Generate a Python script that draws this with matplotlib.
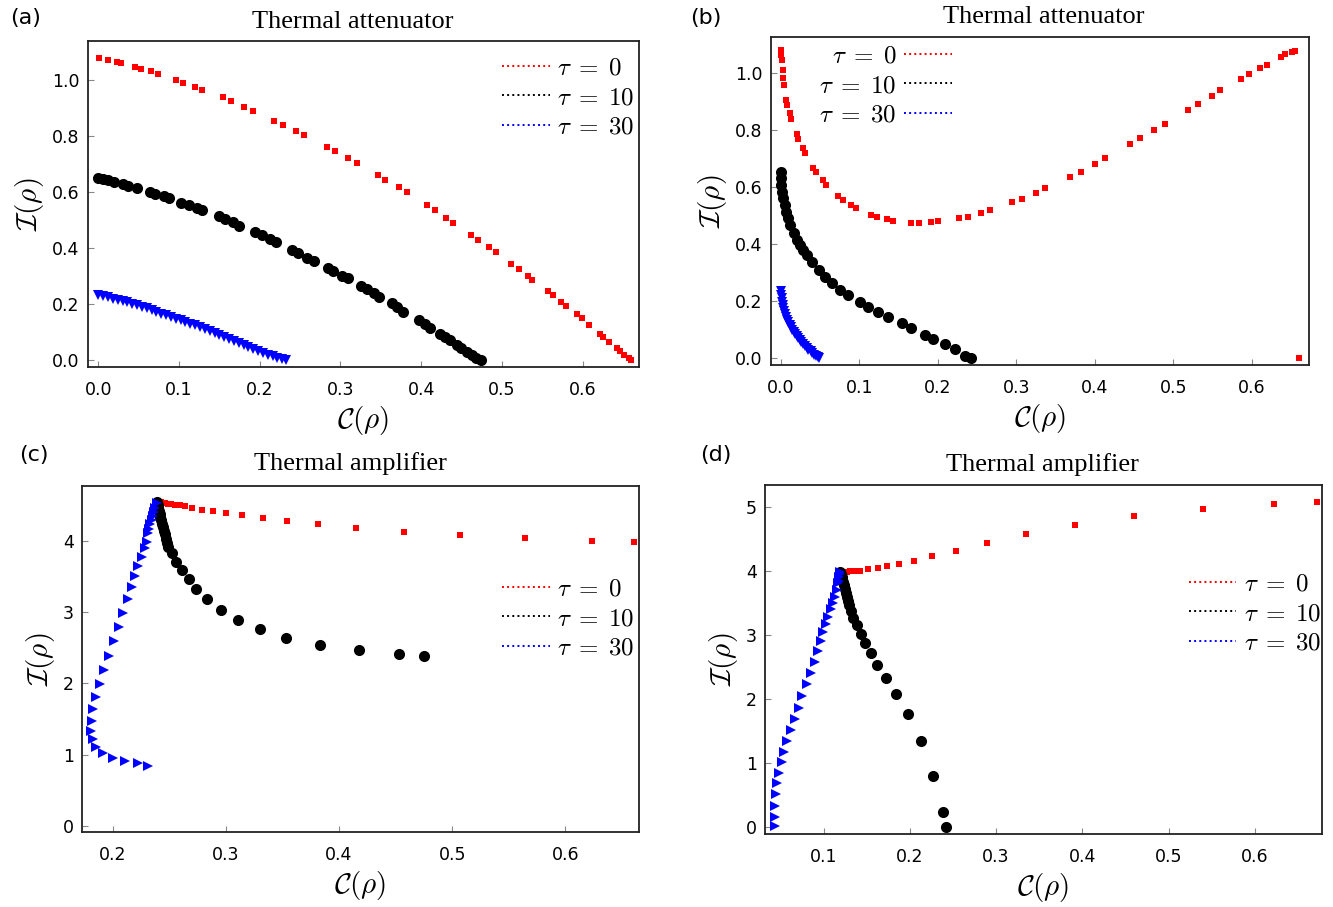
import matplotlib
matplotlib.use("Agg")
import matplotlib.pyplot as plt
from matplotlib.lines import Line2D

plt.rcParams['mathtext.fontset'] = 'cm'
plt.rcParams['font.family'] = ['DejaVu Sans']

# ---------------- (a) thermal attenuator ----------------
a_red_x = [0.001, 0.012, 0.023, 0.028, 0.045, 0.053, 0.065, 0.074, 0.096, 0.105,
           0.120, 0.129, 0.155, 0.164, 0.181, 0.192, 0.218, 0.229, 0.245, 0.255,
           0.283, 0.293, 0.310, 0.320, 0.346, 0.355, 0.372, 0.382, 0.407, 0.417,
           0.431, 0.440, 0.462, 0.471, 0.484, 0.493, 0.512, 0.521, 0.532, 0.538,
           0.557, 0.563, 0.573, 0.579, 0.593, 0.599, 0.608, 0.622, 0.626, 0.633,
           0.643, 0.646, 0.652, 0.657, 0.660]
a_red_y = [1.079, 1.073, 1.067, 1.061, 1.049, 1.041, 1.032, 1.023, 1.002, 0.992,
           0.977, 0.967, 0.939, 0.926, 0.905, 0.892, 0.856, 0.842, 0.819, 0.804,
           0.763, 0.748, 0.722, 0.705, 0.662, 0.644, 0.618, 0.600, 0.555, 0.537,
           0.509, 0.491, 0.447, 0.429, 0.403, 0.385, 0.342, 0.326, 0.302, 0.285,
           0.247, 0.233, 0.209, 0.194, 0.164, 0.149, 0.125, 0.094, 0.083, 0.065,
           0.042, 0.032, 0.018, 0.006, 0.000]

a_blk_x = [0.000, 0.006, 0.012, 0.019, 0.031, 0.037, 0.048, 0.064, 0.070, 0.081,
           0.087, 0.103, 0.112, 0.122, 0.129, 0.149, 0.157, 0.167, 0.174, 0.194,
           0.203, 0.213, 0.220, 0.240, 0.248, 0.258, 0.267, 0.285, 0.291, 0.302,
           0.309, 0.325, 0.333, 0.341, 0.348, 0.364, 0.370, 0.378, 0.397, 0.405,
           0.411, 0.424, 0.430, 0.436, 0.445, 0.450, 0.457, 0.463, 0.468, 0.474]
a_blk_y = [0.650, 0.648, 0.643, 0.638, 0.629, 0.624, 0.614, 0.602, 0.595, 0.586,
           0.578, 0.562, 0.555, 0.545, 0.536, 0.514, 0.504, 0.493, 0.481, 0.457,
           0.447, 0.433, 0.421, 0.394, 0.383, 0.366, 0.355, 0.328, 0.318, 0.302,
           0.292, 0.266, 0.254, 0.239, 0.227, 0.203, 0.191, 0.173, 0.143, 0.128,
           0.116, 0.093, 0.084, 0.072, 0.054, 0.042, 0.030, 0.018, 0.006, 0.000]

a_blu_x = [0.000, 0.006, 0.012, 0.018, 0.024, 0.030, 0.036, 0.042, 0.048, 0.054,
           0.060, 0.066, 0.072, 0.078, 0.084, 0.090, 0.096, 0.102, 0.108, 0.114,
           0.120, 0.126, 0.132, 0.138, 0.144, 0.150, 0.156, 0.162, 0.168, 0.174,
           0.180, 0.186, 0.192, 0.198, 0.204, 0.210, 0.216, 0.222, 0.228, 0.232]
a_blu_y = [0.233, 0.229, 0.224, 0.220, 0.216, 0.211, 0.206, 0.201, 0.196, 0.190,
           0.185, 0.179, 0.173, 0.166, 0.160, 0.154, 0.148, 0.142, 0.136, 0.130,
           0.124, 0.118, 0.111, 0.105, 0.098, 0.091, 0.084, 0.076, 0.069, 0.062,
           0.055, 0.047, 0.040, 0.032, 0.026, 0.019, 0.013, 0.007, 0.002, 0.000]

# ---------------- (b) thermal attenuator ----------------
b_red_x = [0.000, 0.000, 0.001, 0.002, 0.003, 0.004, 0.007, 0.008, 0.011, 0.013,
           0.020, 0.022, 0.028, 0.031, 0.041, 0.045, 0.053, 0.058, 0.073, 0.079,
           0.089, 0.095, 0.115, 0.123, 0.135, 0.143, 0.166, 0.176, 0.191, 0.200,
           0.227, 0.238, 0.255, 0.266, 0.295, 0.307, 0.325, 0.337, 0.369, 0.382,
           0.400, 0.413, 0.445, 0.457, 0.476, 0.489, 0.519, 0.531, 0.549, 0.560,
           0.586, 0.596, 0.610, 0.619, 0.637, 0.643, 0.651, 0.655, 0.660]
b_red_y = [1.082, 1.064, 1.047, 1.012, 0.982, 0.959, 0.906, 0.889, 0.860, 0.840,
           0.786, 0.770, 0.737, 0.719, 0.669, 0.653, 0.626, 0.608, 0.571, 0.556,
           0.538, 0.526, 0.503, 0.496, 0.488, 0.482, 0.476, 0.476, 0.477, 0.481,
           0.491, 0.497, 0.510, 0.519, 0.547, 0.560, 0.581, 0.596, 0.637, 0.655,
           0.683, 0.702, 0.752, 0.772, 0.802, 0.823, 0.872, 0.893, 0.920, 0.940,
           0.981, 0.997, 1.019, 1.030, 1.057, 1.067, 1.076, 1.079, 0.000]

b_blk_x = [0.000, 0.000, 0.000, 0.001, 0.003, 0.005, 0.007, 0.009, 0.011, 0.016,
           0.020, 0.024, 0.028, 0.033, 0.039, 0.048, 0.056, 0.065, 0.075, 0.086,
           0.101, 0.111, 0.124, 0.137, 0.154, 0.166, 0.183, 0.194, 0.209, 0.222,
           0.234, 0.242]
b_blk_y = [0.655, 0.632, 0.608, 0.585, 0.561, 0.538, 0.514, 0.491, 0.468, 0.439,
           0.415, 0.398, 0.380, 0.362, 0.339, 0.310, 0.286, 0.263, 0.240, 0.222,
           0.199, 0.181, 0.164, 0.146, 0.123, 0.105, 0.082, 0.068, 0.049, 0.033,
           0.009, 0.000]

b_blu_x = [0.000, 0.0005, 0.001, 0.0015, 0.002, 0.003, 0.004, 0.005, 0.006, 0.008,
           0.009, 0.011, 0.013, 0.014, 0.016, 0.018, 0.020, 0.022, 0.024, 0.026,
           0.028, 0.031, 0.033, 0.035, 0.038, 0.040, 0.042, 0.045, 0.047, 0.049]
b_blu_y = [0.235, 0.222, 0.210, 0.198, 0.187, 0.175, 0.165, 0.155, 0.145, 0.136,
           0.127, 0.117, 0.109, 0.101, 0.093, 0.085, 0.077, 0.070, 0.063, 0.056,
           0.050, 0.043, 0.036, 0.030, 0.024, 0.018, 0.013, 0.007, 0.003, 0.000]

# ---------------- (c) thermal amplifier ----------------
c_red_x = [0.2400, 0.2430, 0.2460, 0.2490, 0.2520, 0.2555, 0.2595, 0.2640, 0.2700, 0.2790,
           0.2890, 0.3003, 0.3146, 0.3327, 0.3542, 0.3817, 0.4150, 0.4572, 0.5072, 0.5643,
           0.6235, 0.6606]
c_red_y = [4.546, 4.536, 4.527, 4.519, 4.512, 4.504, 4.494, 4.480, 4.460, 4.435,
           4.413, 4.385, 4.357, 4.320, 4.280, 4.234, 4.178, 4.126, 4.075, 4.033,
           4.000, 3.986]

c_blk_x = [0.2395, 0.2400, 0.2405, 0.2410, 0.2416, 0.2423, 0.2430, 0.2438, 0.2446, 0.2455,
           0.2463, 0.2472, 0.2482, 0.2493, 0.2529, 0.2560, 0.2613, 0.2671, 0.2741, 0.2836,
           0.2956, 0.3108, 0.3298, 0.3536, 0.3833, 0.4176, 0.4527, 0.4752]
c_blk_y = [4.546, 4.500, 4.460, 4.420, 4.380, 4.330, 4.290, 4.240, 4.190, 4.140,
           4.090, 4.030, 3.970, 3.916, 3.823, 3.706, 3.584, 3.458, 3.318, 3.178,
           3.028, 2.888, 2.757, 2.640, 2.542, 2.472, 2.416, 2.383]

c_blu_x = [0.2390, 0.2378, 0.2366, 0.2354, 0.2346, 0.2335, 0.2325, 0.2316, 0.2302, 0.2287,
           0.2258, 0.2228, 0.2199, 0.2169, 0.2134, 0.2095, 0.2057, 0.2013, 0.1972, 0.1925,
           0.1890, 0.1854, 0.1831, 0.1816, 0.1810, 0.1825, 0.1854, 0.1919, 0.2002, 0.2110,
           0.2228, 0.2316]
c_blu_y = [4.524, 4.460, 4.400, 4.340, 4.290, 4.230, 4.170, 4.103, 3.986, 3.893,
           3.776, 3.645, 3.505, 3.346, 3.178, 2.991, 2.794, 2.594, 2.388, 2.187,
           1.991, 1.808, 1.636, 1.476, 1.336, 1.215, 1.103, 1.019, 0.958, 0.911,
           0.879, 0.845]

# ---------------- (d) thermal amplifier ----------------
d_red_x = [0.1191, 0.1230, 0.1270, 0.1307, 0.1350, 0.1390, 0.1423, 0.1519, 0.1635, 0.1739,
           0.1878, 0.2045, 0.2260, 0.2538, 0.2895, 0.3343, 0.3910, 0.4604, 0.5402, 0.6219,
           0.6722]
d_red_y = [3.988, 3.988, 3.990, 3.992, 3.995, 3.998, 4.003, 4.025, 4.045, 4.074,
           4.108, 4.154, 4.230, 4.318, 4.435, 4.571, 4.716, 4.856, 4.970, 5.049,
           5.080]

d_blk_x = [0.1191, 0.1200, 0.1210, 0.1220, 0.1230, 0.1240, 0.1250, 0.1260, 0.1275, 0.1287,
           0.1300, 0.1315, 0.1345, 0.1385, 0.1431, 0.1481, 0.1547, 0.1623, 0.1724, 0.1840,
           0.1983, 0.2130, 0.2272, 0.2381, 0.2420]
d_blk_y = [3.988, 3.950, 3.910, 3.870, 3.830, 3.780, 3.720, 3.660, 3.590, 3.530,
           3.460, 3.380, 3.260, 3.156, 3.016, 2.880, 2.714, 2.532, 2.334, 2.080,
           1.763, 1.342, 0.800, 0.239, 0.000]

d_blu_x = [0.1191, 0.1187, 0.1182, 0.1177, 0.1172, 0.1153, 0.1133, 0.1114, 0.1083, 0.1056,
           0.1025, 0.0998, 0.0968, 0.0940, 0.0902, 0.0855, 0.0812, 0.0754, 0.0716, 0.0666,
           0.0623, 0.0581, 0.0542, 0.0516, 0.0488, 0.0465, 0.0450, 0.0442, 0.0438, 0.0438]
d_blu_y = [3.988, 3.950, 3.900, 3.850, 3.806, 3.702, 3.598, 3.504, 3.401, 3.286,
           3.172, 3.042, 2.906, 2.750, 2.584, 2.412, 2.231, 2.053, 1.866, 1.690,
           1.513, 1.342, 1.175, 1.014, 0.852, 0.691, 0.520, 0.337, 0.165, 0.020]

legend_labels = [r'$\tau\;=\;0$', r'$\tau\;=\;10$', r'$\tau\;=\;30$']
series_colors = ['#ff0000', '#000000', '#0000ff']

W, H = 1333, 907
fig = plt.figure(figsize=(W / 100, H / 100), dpi=100)


def make_axes(left, top, right, bottom):
    return fig.add_axes([left / W, 1 - bottom / H, (right - left) / W, (bottom - top) / H])


def style(ax, xlim, ylim, xticks, yticks, xlabels, ylabels):
    ax.set_xlim(*xlim)
    ax.set_ylim(*ylim)
    ax.set_xticks(xticks)
    ax.set_yticks(yticks)
    ax.set_xticklabels(xlabels)
    ax.set_yticklabels(ylabels)
    ax.tick_params(direction='in', length=4, width=0.8, color='#888888',
                   labelsize=12.5, top=False, right=False)
    ax.tick_params(axis='x', pad=10)
    ax.tick_params(axis='y', pad=6)
    for s in ax.spines.values():
        s.set_linewidth(1.3)
        s.set_color('#222222')
    ax.set_xlabel(r'$\mathcal{C}(\rho)$', fontsize=21, labelpad=4)
    ax.set_ylabel(r'$\mathcal{I}(\rho)$', fontsize=21, labelpad=4)


def add_legend(ax, anchor, loc, markerfirst=True):
    handles = [Line2D([], [], color=c, ls=':', lw=1.4) for c in series_colors]
    ax.legend(handles, legend_labels, loc=loc, bbox_to_anchor=anchor, frameon=False,
              fontsize=18, handlelength=1.9, handletextpad=0.3, labelspacing=0.22,
              borderpad=0, borderaxespad=0, markerfirst=markerfirst)


def draw(ax, rx, ry, kx, ky, bx, by, tri):
    ax.plot(rx, ry, ls='none', marker='s', ms=5, color=series_colors[0], mew=0)
    ax.plot(kx, ky, ls='none', marker='o', ms=8, color=series_colors[1], mew=0)
    ax.plot(bx, by, ls='none', marker=tri, ms=6.5, color=series_colors[2], mew=0)


ticks01 = [0, 0.1, 0.2, 0.3, 0.4, 0.5, 0.6]
ticks_y01 = [0, 0.2, 0.4, 0.6, 0.8, 1.0]

# (a)
ax_a = make_axes(88, 41, 639, 367)
draw(ax_a, a_red_x, a_red_y, a_blk_x, a_blk_y, a_blu_x, a_blu_y, 'v')
style(ax_a, (-0.0128, 0.670), (-0.025, 1.141), ticks01, ticks_y01,
      ['{:.1f}'.format(v) for v in ticks01], ['{:.1f}'.format(v) for v in ticks_y01])
add_legend(ax_a, (0.992, 0.955), 'upper right')

# (b)
ax_b = make_axes(771, 37, 1309, 365)
draw(ax_b, b_red_x, b_red_y, b_blk_x, b_blk_y, b_blu_x, b_blu_y, 'v')
style(ax_b, (-0.0127, 0.673), (-0.0235, 1.127), ticks01, ticks_y01,
      ['{:.1f}'.format(v) for v in ticks01], ['{:.1f}'.format(v) for v in ticks_y01])
add_legend(ax_b, (0.09, 0.98), 'upper left', markerfirst=False)

# (c)
ticks_c = [0.2, 0.3, 0.4, 0.5, 0.6]
ax_c = make_axes(82, 486, 639, 832)
draw(ax_c, c_red_x, c_red_y, c_blk_x, c_blk_y, c_blu_x, c_blu_y, '>')
style(ax_c, (0.173, 0.665), (-0.084, 4.767), ticks_c, [0, 1, 2, 3, 4],
      ['{:.1f}'.format(v) for v in ticks_c], ['0', '1', '2', '3', '4'])
add_legend(ax_c, (0.992, 0.738), 'upper right')

# (d)
ticks_d = [0.1, 0.2, 0.3, 0.4, 0.5, 0.6]
ax_d = make_axes(765, 485, 1322, 834)
draw(ax_d, d_red_x, d_red_y, d_blk_x, d_blk_y, d_blu_x, d_blu_y, '>')
style(ax_d, (0.0322, 0.6777), (-0.105, 5.34), ticks_d, [0, 1, 2, 3, 4, 5],
      ['{:.1f}'.format(v) for v in ticks_d], ['0', '1', '2', '3', '4', '5'])
add_legend(ax_d, (0.998, 0.752), 'upper right')

# panel titles and letters
title_font = dict(family='Liberation Serif', fontsize=19, ha='center', va='center')
fig.text(353 / W, 1 - 22 / H, 'Thermal attenuator', **title_font)
fig.text(1044 / W, 1 - 17 / H, 'Thermal attenuator', **title_font)
fig.text(350 / W, 1 - 464 / H, 'Thermal amplifier', **title_font)
fig.text(1042 / W, 1 - 465 / H, 'Thermal amplifier', **title_font)

letter_font = dict(fontsize=16, ha='center', va='center')
fig.text(26 / W, 1 - 18 / H, '(a)', **letter_font)
fig.text(706 / W, 1 - 18 / H, '(b)', **letter_font)
fig.text(34 / W, 1 - 455 / H, '(c)', **letter_font)
fig.text(716 / W, 1 - 455 / H, '(d)', **letter_font)

fig.savefig('out.png', dpi=100)
